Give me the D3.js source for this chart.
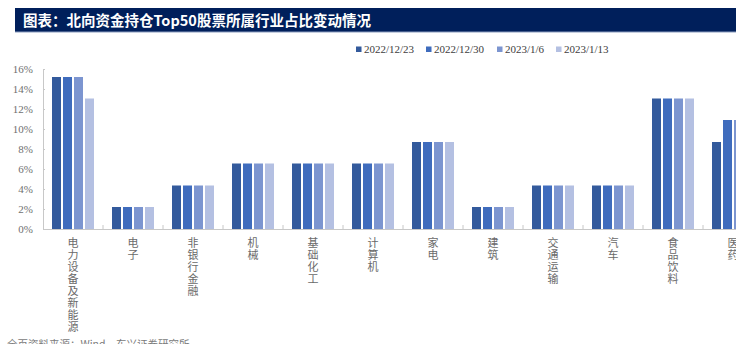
<!DOCTYPE html>
<html>
<head>
<meta charset="utf-8">
<script src="https://cdn.jsdelivr.net/npm/d3@7"></script>
<style>
html,body{margin:0;padding:0;background:#fff;overflow:hidden;}
svg{display:block;}
</style>
</head>
<body>
<svg id="chart" width="736" height="344"></svg>
<script>
const titleText = "图表：北向资金持仓Top50股票所属行业占比变动情况";
const sourceText = "全页资料来源：Wind，东兴证券研究所";
const categories = ["电力设备及新能源","电子","非银行金融","机械","基础化工","计算机","家电","建筑","交通运输","汽车","食品饮料","医药"];
const seriesNames = ["2022/12/23","2022/12/30","2023/1/6","2023/1/13"];
const s20221223 = [15.2,2.2,4.35,6.55,6.55,6.55,8.7,2.2,4.35,4.35,13.05,8.7];
const s20221230 = [15.2,2.2,4.35,6.55,6.55,6.55,8.7,2.2,4.35,4.35,13.05,10.9];
const s20230106 = [15.2,2.2,4.35,6.55,6.55,6.55,8.7,2.2,4.35,4.35,13.05,10.9];
const s20230113 = [13.05,2.2,4.35,6.55,6.55,6.55,8.7,2.2,4.35,4.35,13.05,10.9];
const yTicks = [0,2,4,6,8,10,12,14,16];
const colors = ["#335a9c","#3f6cbd","#7c95d0","#b4c0e2"];

const seriesValues = [s20221223, s20221230, s20230106, s20230113];
const svg = d3.select("#chart");

// title bar
svg.append("rect").attr("x",15).attr("y",8).attr("width",721).attr("height",24).attr("fill","#001f5b");
svg.append("rect").attr("x",15).attr("y",31.5).attr("width",721).attr("height",1).attr("fill","#8a9bbd");
svg.append("text").attr("x",23).attr("y",26).attr("fill","#fff")
  .attr("font-family","'Noto Sans CJK SC', sans-serif").attr("font-weight","bold").attr("font-size","14.5px")
  .text(titleText);

const left = 43, bandW = 60;
const x0 = d3.scaleBand().domain(categories).range([left, left + bandW*categories.length]).padding(0);
const x1 = d3.scaleBand().domain(seriesNames).range([9, 51]).paddingInner(0.1818).paddingOuter(0);
const y = d3.scaleLinear().domain([0,16]).range([229,69]);

// y axis
const yAxis = d3.axisLeft(y).tickValues(yTicks).tickSize(-2).tickPadding(10).tickFormat(d => d + "%");
const gy = svg.append("g").attr("transform",`translate(${left},0)`).call(yAxis);
gy.select(".domain").attr("stroke","#c8c8c8");
gy.selectAll(".tick line").attr("stroke","#c8c8c8");
gy.selectAll(".tick text").attr("fill","#6f6f6f").attr("font-family","'Liberation Serif', serif").attr("font-size","11px");

// bars
const groups = svg.append("g").selectAll("g").data(categories).join("g")
  .attr("transform", d => `translate(${x0(d)},0)`);
groups.selectAll("rect").data((c,ci) => seriesNames.map((s,si) => ({s, si, v: seriesValues[si][ci]})))
  .join("rect")
  .attr("x", d => x1(d.s))
  .attr("width", x1.bandwidth())
  .attr("y", d => y(d.v))
  .attr("height", d => y(0) - y(d.v))
  .attr("fill", d => colors[d.si]);

// x axis
const xAxis = d3.axisBottom(x0).tickSize(0).tickFormat("");
const gx = svg.append("g").attr("transform","translate(0,229)").call(xAxis);
gx.select(".domain").attr("stroke","#c8c8c8");
svg.append("g").selectAll("line").data(categories).join("line")
  .attr("x1", d => x0(d) + bandW).attr("x2", d => x0(d) + bandW)
  .attr("y1", 225).attr("y2", 229).attr("stroke","#c8c8c8");

// vertical category labels (one text each, vertical writing mode)
svg.append("g").selectAll("text").data(categories).join("text")
  .attr("x", d => x0(d) + x0.bandwidth()/2)
  .attr("y", 237)
  .attr("writing-mode","vertical-rl")
  .style("writing-mode","vertical-rl")
  .style("letter-spacing","1px")
  .attr("fill","#6a6a6a")
  .attr("font-family","'Noto Sans CJK SC', sans-serif")
  .attr("font-size","11px")
  .text(d => d);

// legend
const legendX = [356, 426, 497, 556];
const lg = svg.append("g").selectAll("g").data(seriesNames).join("g")
  .attr("transform", (d,i) => `translate(${legendX[i]},0)`);
lg.append("rect").attr("x",0).attr("y",46.5).attr("width",5.5).attr("height",5.5).attr("fill",(d,i)=>colors[i]);
lg.append("text").attr("x",8).attr("y",53).attr("fill","#404040")
  .attr("font-family","'Liberation Serif', serif").attr("font-size","11px").text(d => d);

// source
svg.append("text").attr("x",7).attr("y",348).attr("fill","#7a7a7a")
  .attr("font-family","'Noto Sans CJK SC', sans-serif").attr("font-size","10.5px").text(sourceText);
</script>
</body>
</html>
